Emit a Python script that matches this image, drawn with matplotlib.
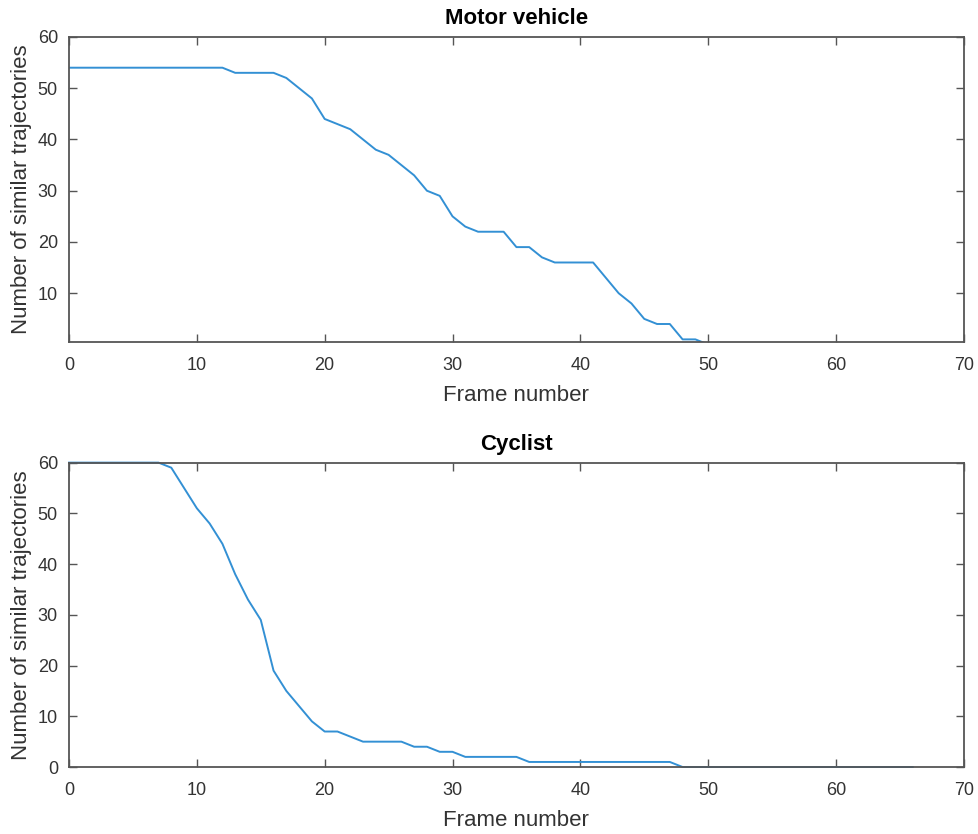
import numpy as np
import matplotlib.pyplot as plt

plt.rcParams['font.family'] = ['Liberation Sans', 'DejaVu Sans']

# motor vehicle: similar trajectories per frame
motor_frames = list(range(0, 51))
motor_counts = [54, 54, 54, 54, 54, 54, 54, 54, 54, 54,
                54, 54, 54, 53, 53, 53, 53, 52, 50, 48,
                44, 43, 42, 40, 38, 37, 35, 33, 30, 29,
                25, 23, 22, 22, 22, 19, 19, 17, 16, 16,
                16, 16, 13, 10, 8, 5, 4, 4, 1, 1,
                0]

# cyclist
cyc_frames = list(range(0, 67))
cyc_counts = [60, 60, 60, 60, 60, 60, 60, 60, 59, 55,
              51, 48, 44, 38, 33, 29, 19, 15, 12, 9,
              7, 7, 6, 5, 5, 5, 5, 4, 4, 3,
              3, 2, 2, 2, 2, 2, 1, 1, 1, 1,
              1, 1, 1, 1, 1, 1, 1, 1, 0, 0,
              0, 0, 0, 0, 0, 0, 0, 0, 0, 0,
              0, 0, 0, 0, 0, 0, 0]

titles = ['Motor vehicle', 'Cyclist']
line_col = '#3390d4'
ax_col = '#555555'
txt_col = '#333333'

fig = plt.figure(figsize=(9.79, 8.34), dpi=100)
ax1 = fig.add_axes([0.0705, 0.590, 0.914, 0.3657])
ax2 = fig.add_axes([0.0705, 0.0803, 0.914, 0.365])

def style(ax, title, ylim, yticks):
    ax.set_xlim(0, 70)
    ax.set_ylim(*ylim)
    ax.set_xticks(np.arange(0, 71, 10))
    ax.set_yticks(yticks)
    ax.set_title(title, fontsize=16, fontweight='bold', pad=9)
    ax.set_xlabel('Frame number', fontsize=16, color=txt_col, labelpad=8)
    ax.set_ylabel('Number of similar trajectories', fontsize=16, color=txt_col, labelpad=4)
    ax.tick_params(direction='in', length=6, width=1, top=True, right=True,
                   labelsize=13, colors=ax_col, labelcolor=txt_col)
    ax.tick_params(axis='x', pad=11)
    ax.tick_params(axis='y', pad=8)
    for s in ax.spines.values():
        s.set_color(ax_col)
        s.set_linewidth(1.3)

ax1.plot(motor_frames, motor_counts, color=line_col, lw=1.4)
style(ax1, titles[0], (0.5, 60), np.arange(10, 61, 10))

ax2.plot(cyc_frames, cyc_counts, color=line_col, lw=1.4, clip_on=False)
style(ax2, titles[1], (0, 60), np.arange(0, 61, 10))

fig.savefig('out.png', dpi=100)
